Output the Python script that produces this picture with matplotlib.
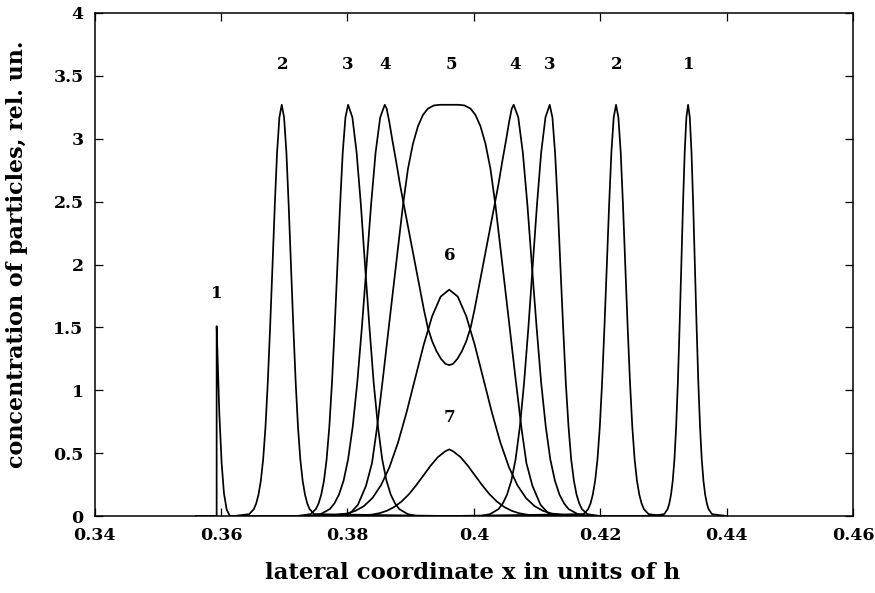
import matplotlib
matplotlib.use("Agg")
import matplotlib.pyplot as plt

# ---- data ----
# curve 1: narrow spike on the left, narrow peak on the right
c1_x = [0.3560, 0.3593, 0.3593, 0.3594, 0.35972, 0.36009, 0.36046, 0.36089, 0.36141,
        0.4280, 0.43012, 0.43066, 0.43093, 0.4312, 0.43147, 0.43174, 0.43201, 0.43228,
        0.43255, 0.43282, 0.43309, 0.43336, 0.43363, 0.4339, 0.43417, 0.43444, 0.43471,
        0.43498, 0.43525, 0.43552, 0.43579, 0.43606, 0.43633, 0.4366, 0.43687, 0.43714,
        0.43768, 0.4400]
c1_y = [0.0, 0.0, 1.51, 1.35, 0.82, 0.42, 0.18, 0.05, 0.0,
        0.0, 0.015, 0.055, 0.10, 0.17, 0.28, 0.45, 0.71, 1.06,
        1.50, 1.98, 2.47, 2.89, 3.17, 3.27, 3.17, 2.89, 2.47,
        1.98, 1.50, 1.06, 0.71, 0.45, 0.28, 0.17, 0.10, 0.055,
        0.015, 0.0]

# curve 2
c2_x = [0.3620, 0.36445, 0.36519, 0.36556, 0.36592, 0.36629, 0.36666, 0.36703, 0.36739,
        0.36776, 0.36813, 0.3685, 0.36886, 0.36923, 0.3696, 0.36997, 0.37034, 0.3707,
        0.37107, 0.37144, 0.37181, 0.37217, 0.37254, 0.37291, 0.37328, 0.37364, 0.37401,
        0.37475, 0.3960,
        0.41735, 0.41809, 0.41846, 0.41882, 0.41919, 0.41956, 0.41993, 0.42029,
        0.42066, 0.42103, 0.4214, 0.42176, 0.42213, 0.4225, 0.42287, 0.42324, 0.4236,
        0.42397, 0.42434, 0.42471, 0.42507, 0.42544, 0.42581, 0.42618, 0.42654, 0.42691,
        0.42765, 0.4300]
c2_y = [0.0, 0.015, 0.055, 0.10, 0.17, 0.28, 0.45, 0.71, 1.06,
        1.50, 1.98, 2.47, 2.89, 3.17, 3.27, 3.17, 2.89, 2.47,
        1.98, 1.50, 1.06, 0.71, 0.45, 0.28, 0.17, 0.10, 0.055,
        0.015, 0.0,
        0.015, 0.055, 0.10, 0.17, 0.28, 0.45, 0.71, 1.06,
        1.50, 1.98, 2.47, 2.89, 3.17, 3.27, 3.17, 2.89, 2.47,
        1.98, 1.50, 1.06, 0.71, 0.45, 0.28, 0.17, 0.10, 0.055,
        0.015, 0.0]

# curve 3
c3_x = [0.3720, 0.37415, 0.375, 0.37543, 0.37585, 0.37628, 0.3767, 0.37713, 0.37755,
        0.37798, 0.3784, 0.37883, 0.37925, 0.37968, 0.3801, 0.38078, 0.38145, 0.38213,
        0.3828, 0.38348, 0.38415, 0.38483, 0.3855, 0.38618, 0.38685, 0.38753, 0.3882,
        0.38955, 0.3910, 0.4010,
        0.40255, 0.4039, 0.40458, 0.40525, 0.40593, 0.4066, 0.40728, 0.40795,
        0.40863, 0.4093, 0.40998, 0.41065, 0.41133, 0.4120, 0.41243, 0.41285, 0.41328,
        0.4137, 0.41413, 0.41455, 0.41498, 0.4154, 0.41583, 0.41625, 0.41668, 0.4171,
        0.41795, 0.4200]
c3_y = [0.0, 0.015, 0.055, 0.10, 0.17, 0.28, 0.45, 0.71, 1.06,
        1.50, 1.98, 2.47, 2.89, 3.17, 3.27, 3.17, 2.89, 2.47,
        1.98, 1.50, 1.06, 0.71, 0.45, 0.28, 0.17, 0.10, 0.055,
        0.015, 0.0, 0.0,
        0.015, 0.055, 0.10, 0.17, 0.28, 0.45, 0.71, 1.06,
        1.50, 1.98, 2.47, 2.89, 3.17, 3.27, 3.17, 2.89, 2.47,
        1.98, 1.50, 1.06, 0.71, 0.45, 0.28, 0.17, 0.10, 0.055,
        0.015, 0.0]

# curve 4 (two peaks joined by a U-shaped valley)
c4_x = [0.3735, 0.37575, 0.3772, 0.37793, 0.37865, 0.37938, 0.3801, 0.38083, 0.38155,
        0.38228, 0.383, 0.38373, 0.38445, 0.38518, 0.3859,
        0.3862, 0.3866, 0.3871, 0.3877, 0.3883, 0.3889, 0.3897, 0.3905, 0.3913,
        0.3921, 0.3927, 0.3934, 0.3941, 0.3948, 0.3955, 0.3961,
        0.3967, 0.3974, 0.3981, 0.3988, 0.3995, 0.4001, 0.4009, 0.4017, 0.4025,
        0.4033, 0.4039, 0.4045, 0.4051, 0.4056, 0.4060, 0.4063,
        0.40703, 0.40775, 0.40848, 0.4092, 0.40993, 0.41065, 0.41138, 0.4121,
        0.41283, 0.41355, 0.41428, 0.415, 0.41645, 0.4187]
c4_y = [0.0, 0.015, 0.055, 0.10, 0.17, 0.28, 0.45, 0.71, 1.06,
        1.50, 1.98, 2.47, 2.89, 3.17, 3.27,
        3.24, 3.14, 2.99, 2.82, 2.64, 2.48, 2.27, 2.06, 1.85,
        1.64, 1.50, 1.39, 1.31, 1.25, 1.21, 1.20,
        1.21, 1.25, 1.31, 1.39, 1.50, 1.64, 1.85, 2.06, 2.27,
        2.48, 2.64, 2.82, 2.99, 3.14, 3.24, 3.27,
        3.17, 2.89, 2.47, 1.98, 1.50, 1.06, 0.71, 0.45,
        0.28, 0.17, 0.10, 0.055, 0.015, 0.0]

# curve 5 (flat-topped profile)
c5_x = [0.3770, 0.3804, 0.38166, 0.38293, 0.38388, 0.38467, 0.38562, 0.38672, 0.38783,
        0.38878, 0.38957, 0.39036, 0.39116, 0.39195, 0.39274, 0.39369, 0.39464,
        0.39756, 0.39851, 0.39946, 0.40025, 0.40104, 0.40184, 0.40263, 0.40342,
        0.40437, 0.40548, 0.40658, 0.40753, 0.40832, 0.40927, 0.41054, 0.4118, 0.4152]
c5_y = [0.0, 0.02, 0.09, 0.24, 0.42, 0.70, 1.10, 1.58, 2.06,
        2.47, 2.76, 2.96, 3.10, 3.19, 3.24, 3.265, 3.27,
        3.27, 3.265, 3.24, 3.19, 3.10, 2.96, 2.76, 2.47,
        2.06, 1.58, 1.10, 0.70, 0.42, 0.24, 0.09, 0.02, 0.0]

# curve 6
c6_x = [0.3745, 0.3772, 0.3799, 0.38125, 0.3826, 0.38395, 0.3853, 0.38665, 0.388,
        0.38935, 0.3907, 0.39205, 0.3934, 0.39475, 0.3961, 0.39745, 0.3988, 0.40015,
        0.4015, 0.40285, 0.4042, 0.40555, 0.4069, 0.40825, 0.4096, 0.41095, 0.4123,
        0.415, 0.4177]
c6_y = [0.0, 0.004, 0.020, 0.041, 0.079, 0.143, 0.244, 0.389, 0.584,
        0.824, 1.092, 1.359, 1.589, 1.745, 1.80, 1.745, 1.589, 1.359,
        1.092, 0.824, 0.584, 0.389, 0.244, 0.143, 0.079, 0.041, 0.020,
        0.004, 0.0]

# curve 7
c7_x = [0.3780, 0.3805, 0.3828, 0.38395, 0.3851, 0.38625, 0.3874, 0.38855, 0.3897,
        0.39085, 0.392, 0.39315, 0.3943, 0.39545, 0.3961, 0.39675, 0.3979, 0.39905,
        0.4002, 0.40135, 0.4025, 0.40365, 0.4048, 0.40595, 0.4071, 0.40825, 0.4094,
        0.4117, 0.4142]
c7_y = [0.0, 0.001, 0.006, 0.012, 0.023, 0.042, 0.072, 0.115, 0.172,
        0.243, 0.321, 0.40, 0.468, 0.514, 0.53, 0.514, 0.468, 0.40,
        0.321, 0.243, 0.172, 0.115, 0.072, 0.042, 0.023, 0.012, 0.006,
        0.001, 0.0]

x_ticks = [0.34, 0.36, 0.38, 0.40, 0.42, 0.44, 0.46]
x_tick_labels = ["0.34", "0.36", "0.38", "0.4", "0.42", "0.44", "0.46"]
y_ticks = [0, 0.5, 1, 1.5, 2, 2.5, 3, 3.5, 4]
y_tick_labels = ["0", "0.5", "1", "1.5", "2", "2.5", "3", "3.5", "4"]

# curve labels: (text, x, y)
label_text = ["1", "2", "3", "4", "5", "4", "3", "2", "1", "6", "7"]
label_x = [0.3593, 0.3697, 0.3801, 0.3859, 0.3964, 0.4065, 0.4120, 0.4226, 0.4340, 0.3962, 0.3962]
label_y = [1.77, 3.59, 3.59, 3.59, 3.59, 3.59, 3.59, 3.59, 3.59, 2.07, 0.78]

# ---- drawing ----
plt.rcParams['font.family'] = ['DejaVu Serif']
plt.rcParams['font.weight'] = 'bold'

fig = plt.figure(figsize=(8.75, 5.93), dpi=100)
ax = fig.add_axes([0.1082, 0.1298, 0.8667, 0.8483])

for xs, ys in [(c1_x, c1_y), (c2_x, c2_y), (c3_x, c3_y), (c4_x, c4_y),
               (c5_x, c5_y), (c6_x, c6_y), (c7_x, c7_y)]:
    ax.plot(xs, ys, color='black', lw=1.25, solid_joinstyle='round')

for t, lx, ly in zip(label_text, label_x, label_y):
    ax.text(lx, ly, t, ha='center', va='center', fontsize=12, fontweight='bold')

ax.set_xlim(0.34, 0.46)
ax.set_ylim(0, 4)
ax.set_xticks(x_ticks)
ax.set_xticklabels(x_tick_labels)
ax.set_yticks(y_ticks)
ax.set_yticklabels(y_tick_labels)
ax.tick_params(direction='in', length=6, width=0.9, top=True, right=True,
               labelsize=12.5, pad=8)
for lab in ax.get_xticklabels() + ax.get_yticklabels():
    lab.set_fontweight('bold')
for s in ax.spines.values():
    s.set_linewidth(1.1)

ax.set_xlabel("lateral coordinate x in units of h", fontsize=16.5, fontweight='bold',
              va='center')
ax.xaxis.set_label_coords(0.498, -0.113)
ax.set_ylabel("concentration of particles, rel. un.", fontsize=16, fontweight='bold',
              va='center')
ax.yaxis.set_label_coords(-0.1025, 0.52)

fig.savefig("out.png", dpi=100)
